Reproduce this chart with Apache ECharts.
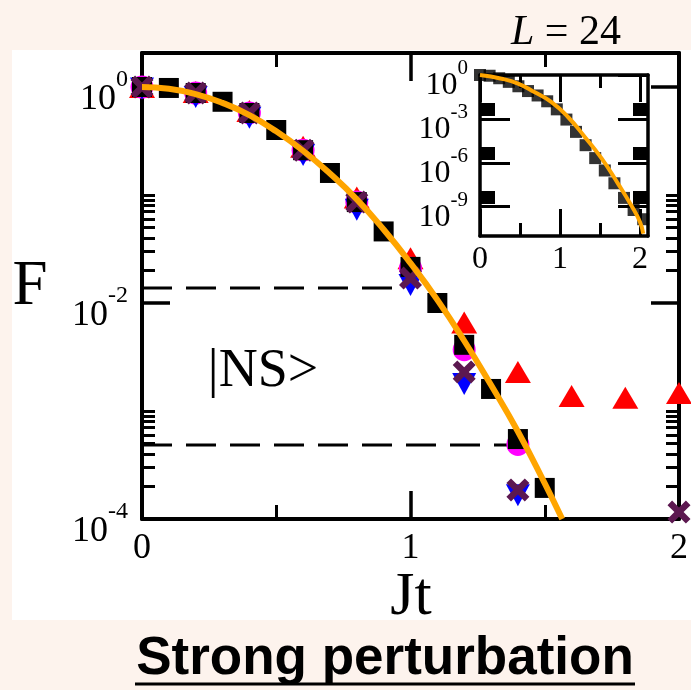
<!DOCTYPE html>
<html>
<head>
<meta charset="utf-8">
<script src="https://cdn.jsdelivr.net/npm/echarts@6/dist/echarts.min.js"></script>
<style>
html, body { margin: 0; padding: 0; background: #fdf3ed; }
#chart { width: 691px; height: 690px; }
</style>
</head>
<body>
<div id="chart"></div>
<script>
// main panel: fidelity F vs Jt (log scale), |NS> state
var squareT = [0, 0.1, 0.2, 0.3, 0.4, 0.5, 0.6, 0.7, 0.8, 0.9, 1.0, 1.1, 1.2, 1.3, 1.4, 1.5];
var squareF = [1.0, 0.98, 0.88, 0.73, 0.575, 0.40, 0.26, 0.16, 0.086, 0.046, 0.0216, 0.0100, 0.0041, 0.0016, 0.00055, 0.000194];

var triT = [0, 0.2, 0.4, 0.6, 0.8, 1.0, 1.2, 1.4, 1.6, 1.8, 2.0];
var triF = [1.0, 0.9, 0.6, 0.28, 0.095, 0.026, 0.0066, 0.0023, 0.00138, 0.00133, 0.00147];

var circT = [0, 0.2, 0.4, 0.6, 0.8, 1.0, 1.2, 1.4];
var circF = [1.0, 0.88, 0.575, 0.26, 0.086, 0.021, 0.0037, 0.00049];

var downT = [0, 0.2, 0.4, 0.6, 0.8, 1.0, 1.2, 1.4];
var downF = [0.97, 0.81, 0.52, 0.235, 0.073, 0.0147, 0.00178, 0.000166];

var crossT = [0, 0.2, 0.4, 0.6, 0.8, 1.0, 1.2, 1.4, 2.0];
var crossF = [1.0, 0.88, 0.575, 0.26, 0.086, 0.017, 0.0023, 0.000186, 0.000116];

var curveT = [0, 0.1, 0.2, 0.3, 0.4, 0.5, 0.6, 0.7, 0.8, 0.9, 1.0, 1.1, 1.2, 1.3, 1.4, 1.5, 1.565];
var curveF = [1, 0.964, 0.861, 0.713, 0.55, 0.389, 0.257, 0.158, 0.0912, 0.0479, 0.0234, 0.0107, 0.00447, 0.00174, 0.000646, 0.000214, 0.0001];

// horizontal dashed guides: level and where they stop
var dashF = [0.0138, 0.000484];
var dashEnd = [0.94, 1.36];

// inset, L = 24
var insetSqT = [0, 0.12, 0.24, 0.36, 0.48, 0.60, 0.72, 0.84, 0.96, 1.08, 1.20, 1.32, 1.44, 1.56, 1.68, 1.80, 1.92, 2.04];
var insetSqF = [1, 0.89, 0.6, 0.34, 0.17, 0.08, 0.04, 0.016, 4.5e-3, 9e-4, 1.3e-4, 1.6e-5, 2.1e-6, 3e-7, 4e-8, 4e-9, 6e-10, 1.4e-10];
var insetCurveT = [0, 0.27, 0.475, 0.68, 0.89, 1.1, 1.31, 1.52, 1.725, 1.89, 2.0, 2.04];
var insetCurveF = [1, 0.56, 0.26, 0.069, 0.0145, 1.35e-3, 5.9e-5, 2e-6, 3.8e-8, 1.26e-9, 9.1e-11, 1.45e-11];

var xTicksMajor = [0, 1, 2];
var xTicksMinor = [0.5, 1.5];
var mainDecades = [-4, -2, 0];
var insetDecades = [0, -3, -6, -9];
// inset labels split over two axes so their tall boxes never collide
var insetLabelsA = [0, -6];
var insetLabelsB = [-3, -9];

var serif = '"Liberation Serif", "Times New Roman", serif';
var crossPath = 'path://M2,0 L5,3 L8,0 L10,2 L7,5 L10,8 L8,10 L5,7 L2,10 L0,8 L3,5 L0,2 Z';

function pts(t, f) {
  return t.map(function (v, i) { return [v, Math.log10(f[i])]; });
}

function minorsAbove(decades) {
  var out = [];
  decades.forEach(function (d) {
    for (var k = 2; k <= 10; k++) {
      out.push(d + Math.log10(k));
    }
  });
  return out;
}

// "10" with a raised exponent
function powLabel(big, small, values, margin, lineH, padTop) {
  return {
    show: true,
    customValues: values,
    margin: margin,
    hideOverlap: false,
    showMinLabel: true,
    showMaxLabel: true,
    padding: [padTop, 0, 0, 0],
    formatter: function (v) { return '{b|10}{s|' + v + '}'; },
    rich: {
      b: { fontFamily: serif, fontSize: big, color: '#000', verticalAlign: 'bottom', lineHeight: lineH },
      s: { fontFamily: serif, fontSize: small, color: '#000', verticalAlign: 'top' }
    }
  };
}

function plainLabel(size, margin) {
  return {
    show: true, customValues: xTicksMajor, margin: margin,
    hideOverlap: false, showMinLabel: true, showMaxLabel: true,
    fontFamily: serif, fontSize: size, color: '#000'
  };
}

function axis(o) {
  return {
    type: 'value',
    gridIndex: o.grid,
    position: o.pos,
    min: o.min,
    max: o.max,
    z: o.grid === 1 ? 6 : 0,
    axisLine: { show: !!o.line, onZero: false, lineStyle: { color: '#000', width: o.lw || 4 } },
    axisTick: {
      show: !!o.ticks, inside: true, length: o.len || 1, customValues: o.ticks,
      lineStyle: { color: '#000', width: o.tw || 3 }
    },
    axisLabel: o.label || { show: false },
    splitLine: { show: false }
  };
}

var xAxes = [
  axis({ grid: 0, pos: 'bottom', min: 0, max: 2, line: true, len: 28, tw: 3.5, ticks: xTicksMajor, label: plainLabel(36, 12) }),
  axis({ grid: 0, pos: 'bottom', min: 0, max: 2, len: 14, ticks: xTicksMinor }),
  axis({ grid: 0, pos: 'top', min: 0, max: 2, line: true, len: 28, tw: 3.5, ticks: xTicksMajor }),
  axis({ grid: 0, pos: 'top', min: 0, max: 2, len: 14, ticks: xTicksMinor }),
  axis({ grid: 1, pos: 'bottom', min: 0, max: 2.1, line: true, lw: 3.5, len: 27, ticks: xTicksMajor, label: plainLabel(32, 8) }),
  axis({ grid: 1, pos: 'bottom', min: 0, max: 2.1, len: 13, ticks: xTicksMinor }),
  axis({ grid: 1, pos: 'top', min: 0, max: 2.1, line: true, lw: 3.5, len: 27, ticks: xTicksMajor }),
  axis({ grid: 1, pos: 'top', min: 0, max: 2.1, len: 13, ticks: xTicksMinor })
];

var yAxes = [
  axis({ grid: 0, pos: 'left', min: -4, max: 0.315, line: true, len: 28, tw: 3.5, ticks: mainDecades,
    label: powLabel(36, 24, mainDecades, 14, 50, 12) }),
  axis({ grid: 0, pos: 'left', min: -4, max: 0.315, len: 13, ticks: minorsAbove([-4, -2]) }),
  axis({ grid: 0, pos: 'right', min: -4, max: 0.315, line: true, len: 28, tw: 3.5, ticks: mainDecades }),
  axis({ grid: 0, pos: 'right', min: -4, max: 0.315, len: 13, ticks: minorsAbove([-4, -2]) }),
  axis({ grid: 1, pos: 'left', min: -11, max: 0, line: true, lw: 3.5, len: 30, ticks: insetDecades,
    label: powLabel(32, 21, insetLabelsA, 12, 44, 10) }),
  axis({ grid: 1, pos: 'left', min: -11, max: 0, len: 15, ticks: minorsAbove([-3, -6, -9]) }),
  axis({ grid: 1, pos: 'right', min: -11, max: 0, line: true, lw: 3.5, len: 30, ticks: insetDecades }),
  axis({ grid: 1, pos: 'right', min: -11, max: 0, len: 15, ticks: minorsAbove([-3, -6, -9]) }),
  axis({ grid: 1, pos: 'left', min: -11, max: 0, label: powLabel(32, 21, insetLabelsB, 12, 44, 10) })
];

function scatter(data, symbol, size, color, z, rotate) {
  return {
    type: 'scatter', xAxisIndex: 0, yAxisIndex: 0,
    data: data, symbol: symbol, symbolSize: size, symbolRotate: rotate || 0,
    itemStyle: { color: color, opacity: 1 }, clip: false, z: z, silent: true
  };
}

var dashSeries = dashF.map(function (f, i) {
  return {
    type: 'line', xAxisIndex: 0, yAxisIndex: 0, z: 3, silent: true,
    data: [[0, Math.log10(f)], [dashEnd[i], Math.log10(f)]],
    showSymbol: false,
    lineStyle: { color: '#000', width: 3, type: [30, 14] }
  };
});

var option = {
  animation: false,
  backgroundColor: '#fdf3ed',
  grid: [
    { left: 142, top: 53, width: 538, height: 466 },
    { left: 480, top: 75, width: 168, height: 161, show: true, backgroundColor: '#fff', borderWidth: 0, z: 4 }
  ],
  xAxis: xAxes,
  yAxis: yAxes,
  graphic: [
    { type: 'rect', z: -100, shape: { x: 12, y: 50, width: 679, height: 570 }, style: { fill: '#fff' } },
    { type: 'text', x: 30, y: 287, style: { text: 'F', font: '63px ' + serif, fill: '#000', align: 'center', verticalAlign: 'middle' } },
    { type: 'text', x: 411, y: 598, style: { text: 'Jt', font: '62px ' + serif, fill: '#000', align: 'center', verticalAlign: 'middle' } },
    { type: 'text', x: 263, y: 372, style: { text: '|NS>', font: '54px ' + serif, fill: '#000', align: 'center', verticalAlign: 'middle' } },
    { type: 'text', x: 566, y: 33, style: {
      text: '{i|L} = 24', font: '42px ' + serif, fill: '#000', align: 'center', verticalAlign: 'middle',
      rich: { i: { font: 'italic 42px ' + serif, fill: '#000' } } } },
    { type: 'text', x: 385, y: 659, style: {
      text: 'Strong perturbation', font: 'bold 53px "Liberation Sans", Arial, sans-serif', fill: '#000',
      align: 'center', verticalAlign: 'middle' } },
    { type: 'line', shape: { x1: 135, y1: 684, x2: 635, y2: 684 }, style: { stroke: '#000', lineWidth: 3 } }
  ],
  series: [
    scatter(pts(triT, triF), 'triangle', [26, 22], '#ff0000', 5),
    scatter(pts(circT, circF), 'circle', 23, '#ff00ff', 6),
    scatter(pts(downT, downF), 'triangle', [24, 22], '#0000ff', 7, 180),
    scatter(pts(squareT, squareF), 'rect', 20, '#000000', 8),
    scatter(pts(crossT, crossF), crossPath, 23, '#5c1850', 9),
    dashSeries[0],
    dashSeries[1],
    {
      type: 'line', xAxisIndex: 0, yAxisIndex: 0, z: 10, silent: true,
      data: pts(curveT, curveF), smooth: true, showSymbol: false,
      lineStyle: { color: '#ffa500', width: 6 }
    },
    {
      type: 'scatter', xAxisIndex: 4, yAxisIndex: 4, z: 11, silent: true, clip: false,
      data: pts(insetSqT, insetSqF), symbol: 'rect', symbolSize: 12,
      itemStyle: { color: '#000' }
    },
    {
      type: 'line', xAxisIndex: 4, yAxisIndex: 4, z: 12, silent: true,
      data: pts(insetCurveT, insetCurveF), smooth: true, showSymbol: false,
      lineStyle: { color: '#ffa500', width: 4 }
    }
  ]
};

var chart = echarts.init(document.getElementById('chart'));
chart.setOption(option);
</script>
</body>
</html>
